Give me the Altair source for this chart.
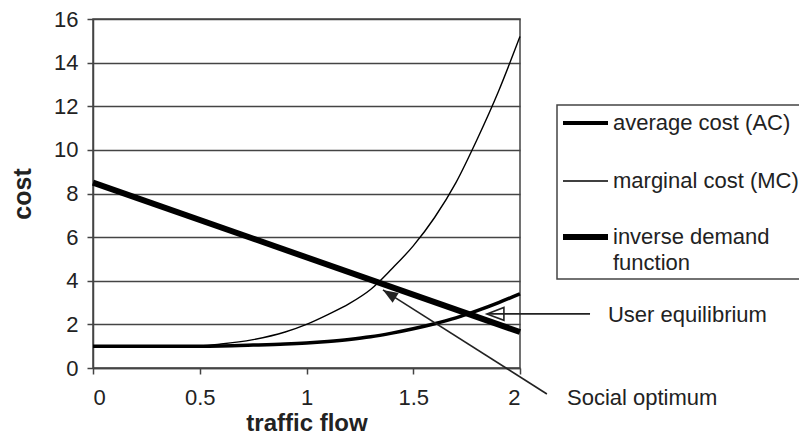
import altair as alt
import pandas as pd

# ---- data ----
flow = [0, 0.25, 0.5, 0.6, 0.75, 0.9, 1.0, 1.1, 1.2, 1.3, 1.4, 1.5, 1.6, 1.7, 1.8, 1.9, 2.0]
average_cost = [1.0, 1.0, 1.0, 1.01, 1.05, 1.1, 1.15, 1.22, 1.31, 1.43, 1.6, 1.8, 2.03, 2.3, 2.63, 3.0, 3.4]
marginal_cost = [1.0, 1.0, 1.02, 1.1, 1.3, 1.65, 2.0, 2.45, 2.95, 3.6, 4.55, 5.6, 6.9, 8.5, 10.5, 12.7, 15.2]
demand_flow = [0, 2]
demand_cost = [8.5, 1.65]

x_ticks = [0, 0.5, 1, 1.5, 2]
y_ticks = [0, 2, 4, 6, 8, 10, 12, 14, 16]

legend_labels = ["average cost (AC)", "marginal cost (MC)", "inverse demand", "function"]

ann_labels = ["User equilibrium", "Social optimum"]
ann_tip_x = [1.845, 1.358]
ann_tip_y = [2.48, 3.58]
ann_tail_x = [2.328, 2.126]
ann_tail_y = [2.48, -1.19]
ann_text_x = [2.412, 2.22]
ann_text_y = [2.43, -1.38]

# ---- tables ----
cost_df = pd.DataFrame({"x": flow, "ac": average_cost, "mc": marginal_cost})
demand_df = pd.DataFrame({"x": demand_flow, "y": demand_cost})
ann_df = pd.DataFrame({
    "label": ann_labels,
    "x": ann_tail_x, "y": ann_tail_y,
    "tip_x": ann_tip_x, "tip_y": ann_tip_y,
    "tx": ann_text_x, "ty": ann_text_y,
})

FONT = "Liberation Sans"
INK = "#222222"
GRID = "#444444"

xscale = alt.Scale(domain=[0, 2], nice=False, zero=False)
yscale = alt.Scale(domain=[0, 16], nice=False, zero=False)

x_axis = alt.Axis(values=x_ticks, grid=False, labelExpr="format(datum.value, '~g')",
                  tickSize=6, labelPadding=13, titlePadding=3, titleFontSize=24,
                  title="traffic flow")
y_axis = alt.Axis(values=y_ticks, grid=True, tickSize=6, labelPadding=9,
                  titlePadding=18, title="cost")


def X(field):
    return alt.X(field, type="quantitative", scale=xscale, axis=x_axis, title="traffic flow")


def Y(field):
    return alt.Y(field, type="quantitative", scale=yscale, axis=y_axis, title="cost")


base_cost = alt.Chart(cost_df)

mc_line = base_cost.mark_line(color="black", strokeWidth=1.4, interpolate="monotone").encode(
    x=X("x"), y=Y("mc"))
ac_line = base_cost.mark_line(color="black", strokeWidth=3.5, interpolate="monotone").encode(
    x=X("x"), y=Y("ac"))
demand_line = alt.Chart(demand_df).mark_line(color="black", strokeWidth=6).encode(
    x=X("x"), y=Y("y"))

# annotations
ann_rules = alt.Chart(ann_df).mark_rule(color=INK, strokeWidth=1.6).encode(
    x=X("x"), y=Y("y"), x2=alt.X2("tip_x"), y2=alt.Y2("tip_y"))

ARROW = "M0,0 L0.38,1 L-0.38,1 Z"
ue_head = alt.Chart(ann_df).transform_filter(alt.datum.label == "User equilibrium").mark_point(
    shape=ARROW, filled=False, size=1156, angle=270, color=INK, strokeWidth=1.6, opacity=1
).encode(x=X("tip_x"), y=Y("tip_y"))
so_head = alt.Chart(ann_df).transform_filter(alt.datum.label == "Social optimum").mark_point(
    shape=ARROW, filled=True, size=900, angle=302, color=INK, opacity=1
).encode(x=X("tip_x"), y=Y("tip_y"))

ann_text = alt.Chart(ann_df).mark_text(align="left", baseline="middle", font=FONT,
                                       fontSize=22, color=INK).encode(
    x=X("tx"), y=Y("ty"), text="label:N")

# legend (drawn by hand)
one = alt.Data(values=[{"k": 1}])
legend_box = alt.Chart(one).mark_rect(fill="white", stroke=GRID, strokeWidth=1.5).encode(
    x=alt.value(464), x2=alt.value(730), y=alt.value(86), y2=alt.value(260))
leg_layers = [legend_box]
sample_widths = [4, 1.5, 6]
sample_y = [104, 162, 218]
for w, yy in zip(sample_widths, sample_y):
    leg_layers.append(alt.Chart(one).mark_rule(color="black", strokeWidth=w).encode(
        x=alt.value(470), x2=alt.value(515), y=alt.value(yy)))
text_y = [104, 162, 218, 244]
for lab, yy in zip(legend_labels, text_y):
    leg_layers.append(alt.Chart(one).mark_text(align="left", baseline="middle", font=FONT,
                                               fontSize=22, color=INK, text=lab).encode(
        x=alt.value(520), y=alt.value(yy)))

chart = alt.layer(
    mc_line, ac_line, demand_line, ann_rules, ue_head, so_head, ann_text, *leg_layers
).properties(
    width=427, height=349,
    autosize=alt.AutoSizeParams(type="none"),
    padding={"left": 85, "top": 11, "right": 279, "bottom": 68},
).configure_view(
    stroke=GRID, strokeWidth=1.5
).configure_axis(
    labelFont=FONT, titleFont=FONT, labelFontSize=22, titleFontSize=25,
    titleFontWeight="bold", labelColor=INK, titleColor=INK,
    domainColor=GRID, domainWidth=1.5, tickColor=GRID, tickWidth=1.5,
    gridColor=GRID, gridWidth=1.3, gridOpacity=1
)

chart.save("out.html", embed_options={"renderer": "svg", "actions": False})
